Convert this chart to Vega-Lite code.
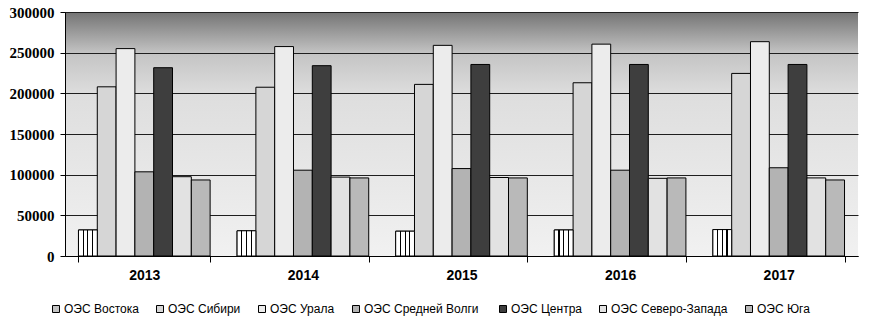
{
  "$schema": "https://vega.github.io/schema/vega-lite/v6.json",
  "width": 793,
  "height": 244,
  "autosize": {"type": "none"},
  "padding": {"left": 65, "top": 12, "right": 11, "bottom": 66},
  "background": "white",
  "data": {
    "values": [
      {"year": "2013", "series": "ОЭС Востока", "value": 32000},
      {"year": "2013", "series": "ОЭС Сибири", "value": 208000},
      {"year": "2013", "series": "ОЭС Урала", "value": 255000},
      {"year": "2013", "series": "ОЭС Средней  Волги", "value": 103500},
      {"year": "2013", "series": "ОЭС Центра", "value": 231500},
      {"year": "2013", "series": "ОЭС Северо-Запада", "value": 97500},
      {"year": "2013", "series": "ОЭС Юга", "value": 93500},
      {"year": "2014", "series": "ОЭС Востока", "value": 31000},
      {"year": "2014", "series": "ОЭС Сибири", "value": 207500},
      {"year": "2014", "series": "ОЭС Урала", "value": 257500},
      {"year": "2014", "series": "ОЭС Средней  Волги", "value": 105500},
      {"year": "2014", "series": "ОЭС Центра", "value": 234000},
      {"year": "2014", "series": "ОЭС Северо-Запада", "value": 97000},
      {"year": "2014", "series": "ОЭС Юга", "value": 96000},
      {"year": "2015", "series": "ОЭС Востока", "value": 30500},
      {"year": "2015", "series": "ОЭС Сибири", "value": 211000},
      {"year": "2015", "series": "ОЭС Урала", "value": 259000},
      {"year": "2015", "series": "ОЭС Средней  Волги", "value": 107500},
      {"year": "2015", "series": "ОЭС Центра", "value": 235500},
      {"year": "2015", "series": "ОЭС Северо-Запада", "value": 96500},
      {"year": "2015", "series": "ОЭС Юга", "value": 96000},
      {"year": "2016", "series": "ОЭС Востока", "value": 32000},
      {"year": "2016", "series": "ОЭС Сибири", "value": 213000},
      {"year": "2016", "series": "ОЭС Урала", "value": 260500},
      {"year": "2016", "series": "ОЭС Средней  Волги", "value": 105500},
      {"year": "2016", "series": "ОЭС Центра", "value": 235500},
      {"year": "2016", "series": "ОЭС Северо-Запада", "value": 95500},
      {"year": "2016", "series": "ОЭС Юга", "value": 96000},
      {"year": "2017", "series": "ОЭС Востока", "value": 32500},
      {"year": "2017", "series": "ОЭС Сибири", "value": 224500},
      {"year": "2017", "series": "ОЭС Урала", "value": 263500},
      {"year": "2017", "series": "ОЭС Средней  Волги", "value": 108500},
      {"year": "2017", "series": "ОЭС Центра", "value": 235500},
      {"year": "2017", "series": "ОЭС Северо-Запада", "value": 96000},
      {"year": "2017", "series": "ОЭС Юга", "value": 93500}
    ]
  },
  "encoding": {
    "x": {
      "field": "year",
      "type": "nominal",
      "scale": {"paddingInner": 0.17, "paddingOuter": 0.085},
      "axis": {
        "title": null,
        "labelAngle": 0,
        "labelFont": "Liberation Sans",
        "labelFontWeight": "bold",
        "labelFontSize": 14,
        "labelColor": "black",
        "labelPadding": 6,
        "tickBand": "extent",
        "tickSize": 6,
        "tickColor": "black",
        "domainColor": "black",
        "grid": false
      }
    },
    "xOffset": {
      "field": "series",
      "type": "nominal",
      "scale": {
        "domain": ["ОЭС Востока", "ОЭС Сибири", "ОЭС Урала", "ОЭС Средней  Волги", "ОЭС Центра", "ОЭС Северо-Запада", "ОЭС Юга"],
        "paddingInner": 0, "paddingOuter": 0
      }
    },
    "y": {
      "field": "value",
      "type": "quantitative",
      "scale": {"domain": [0, 300000], "nice": false},
      "axis": {
        "title": null,
        "values": [0, 50000, 100000, 150000, 200000, 250000, 300000],
        "format": "d",
        "labelFont": "Liberation Serif",
        "labelFontWeight": "bold",
        "labelFontSize": 15,
        "labelColor": "black",
        "labelPadding": 6,
        "tickSize": 5,
        "tickColor": "black",
        "domainColor": "black",
        "grid": true,
        "gridColor": "#1e1e1e",
        "gridWidth": 1
      }
    }
  },
  "layer": [
    {
      "mark": {"type": "bar", "stroke": "black", "strokeWidth": 1},
      "encoding": {
        "fill": {
          "field": "series",
          "type": "nominal",
          "scale": {
            "domain": ["ОЭС Востока", "ОЭС Сибири", "ОЭС Урала", "ОЭС Средней  Волги", "ОЭС Центра", "ОЭС Северо-Запада", "ОЭС Юга"],
            "range": ["#c4c4c4", "#d6d6d6", "#ececec", "#b3b3b3", "#3e3e3e", "#e2e2e2", "#b9b9b9"]
          },
          "legend": {
            "title": null,
            "orient": "none",
            "legendX": -15,
            "legendY": 291,
            "direction": "horizontal",
            "columns": 7,
            "symbolType": "square",
            "symbolSize": 49,
            "symbolStrokeColor": "black",
            "symbolStrokeWidth": 1,
            "labelFont": "Liberation Sans",
            "labelFontSize": 12,
            "labelColor": "black",
            "labelOffset": 2,
            "columnPadding": 15,
            "padding": 0
          }
        }
      }
    },
    {
      "transform": [{"filter": "datum.series === 'ОЭС Востока'"}],
      "mark": {
        "type": "bar",
        "stroke": "black",
        "strokeWidth": 1,
        "fill": {
          "gradient": "linear",
          "x1": 0, "y1": 0, "x2": 1, "y2": 0,
          "stops": [
            {"offset": 0, "color": "white"},
            {"offset": 0.22, "color": "white"},
            {"offset": 0.22, "color": "black"},
            {"offset": 0.28, "color": "black"},
            {"offset": 0.28, "color": "white"},
            {"offset": 0.47, "color": "white"},
            {"offset": 0.47, "color": "black"},
            {"offset": 0.53, "color": "black"},
            {"offset": 0.53, "color": "white"},
            {"offset": 0.72, "color": "white"},
            {"offset": 0.72, "color": "black"},
            {"offset": 0.78, "color": "black"},
            {"offset": 0.78, "color": "white"},
            {"offset": 1, "color": "white"}
          ]
        }
      }
    }
  ],
  "config": {
    "view": {
      "stroke": null,
      "fill": {
        "gradient": "linear",
        "x1": 0, "y1": 0, "x2": 0, "y2": 1,
        "stops": [
          {"offset": 0, "color": "#747474"},
          {"offset": 0.17, "color": "#c4c4c4"},
          {"offset": 0.34, "color": "#dedede"},
          {"offset": 1, "color": "#f1f1f1"}
        ]
      }
    }
  }
}
